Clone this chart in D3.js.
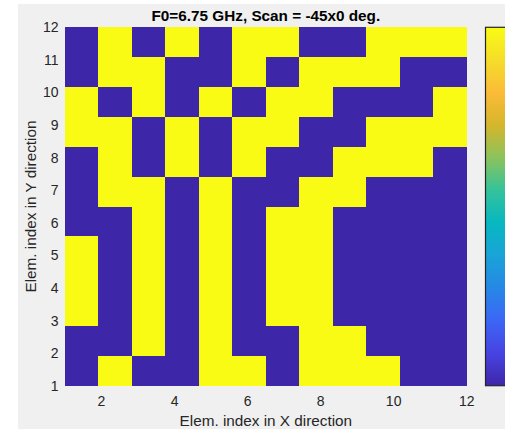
<!DOCTYPE html>
<html>
<head>
<meta charset="utf-8">
<script src="https://cdn.jsdelivr.net/npm/d3@7"></script>
<style>
  html, body { margin: 0; padding: 0; background: #fff; }
  svg { display: block; font-family: "Liberation Sans", Arial, Helvetica, sans-serif; }
</style>
</head>
<body>
<div id="chart"></div>
<script>
// element states, one row per Y index, listed from Y = 12 (top) down to Y = 1
const rows = [
  [0,1,0,1,0,1,1,0,0,1,1,1],
  [0,1,1,0,0,1,0,1,1,1,0,0],
  [1,0,1,0,1,0,1,1,0,0,0,1],
  [1,1,0,1,0,1,1,0,0,1,1,1],
  [0,1,0,1,0,1,0,0,1,1,1,0],
  [0,1,1,0,1,0,0,1,1,0,0,0],
  [0,0,1,0,1,0,1,1,0,0,0,0],
  [1,0,1,0,1,0,1,1,0,0,0,0],
  [1,0,1,0,1,0,1,1,0,0,0,0],
  [1,0,1,0,1,0,1,1,0,0,0,0],
  [0,0,1,0,1,0,0,1,1,0,0,0],
  [0,1,0,0,1,1,0,1,1,1,0,0]
];
const xIndex = d3.range(1, 13);
const yIndex = d3.range(12, 0, -1);
const xTicks = [2, 4, 6, 8, 10, 12];
const yTicks = d3.range(1, 13);

const title = 'F0=6.75 GHz, Scan = -45x0 deg.';
const xLabel = 'Elem. index in X direction';
const yLabel = 'Elem. index in Y direction';

// parula-like colormap stops for the colorbar
const parula = ['#3e26a8', '#4743e2', '#3c66f6', '#2688e6', '#1aa3d7', '#06b8c0',
                '#35c29a', '#8bc35c', '#d5b62c', '#fcbb39', '#f5dd29', '#f9fb15'];

const width = 505, height = 429;
const plot = {left: 65, right: 466.7, top: 27.3, bottom: 385.7};

const svg = d3.select('#chart').append('svg')
  .attr('width', width)
  .attr('height', height);

// figure background
svg.append('rect')
  .attr('x', 18).attr('y', 4)
  .attr('width', width - 18).attr('height', height - 4)
  .attr('fill', '#f0f0f0');

const x = d3.scaleLinear().domain([1, 12]).range([plot.left, plot.right]);
const y = d3.scaleLinear().domain([1, 12]).range([plot.bottom, plot.top]);

const xBand = d3.scaleBand().domain(xIndex).range([plot.left, plot.right]);
const yBand = d3.scaleBand().domain(yIndex).range([plot.top, plot.bottom]);

const color = d3.scaleOrdinal().domain([0, 1]).range([parula[0], parula[parula.length - 1]]);

const cells = [];
rows.forEach((r, ri) => r.forEach((v, ci) => cells.push({xi: xIndex[ci], yi: yIndex[ri], v: v})));

svg.append('g')
  .attr('shape-rendering', 'crispEdges')
  .selectAll('rect')
  .data(cells)
  .enter().append('rect')
  .attr('x', d => xBand(d.xi))
  .attr('y', d => yBand(d.yi))
  .attr('width', xBand.bandwidth())
  .attr('height', yBand.bandwidth())
  .attr('fill', d => color(d.v));

// tick labels
svg.append('g')
  .selectAll('text')
  .data(xTicks)
  .enter().append('text')
  .attr('x', d => x(d))
  .attr('y', 406)
  .attr('text-anchor', 'middle')
  .attr('font-size', 14)
  .attr('fill', '#262626')
  .text(d => d);

svg.append('g')
  .selectAll('text')
  .data(yTicks)
  .enter().append('text')
  .attr('x', 58.5)
  .attr('y', d => y(d) + 5)
  .attr('text-anchor', 'end')
  .attr('font-size', 14)
  .attr('fill', '#262626')
  .text(d => d);

// axis labels and title
svg.append('text')
  .attr('x', (plot.left + plot.right) / 2)
  .attr('y', 426)
  .attr('text-anchor', 'middle')
  .attr('font-size', 15.3)
  .attr('fill', '#262626')
  .text(xLabel);

svg.append('text')
  .attr('transform', `translate(36,${(plot.top + plot.bottom) / 2}) rotate(-90)`)
  .attr('text-anchor', 'middle')
  .attr('font-size', 15.3)
  .attr('fill', '#262626')
  .text(yLabel);

svg.append('text')
  .attr('x', (plot.left + plot.right) / 2)
  .attr('y', 20.5)
  .attr('text-anchor', 'middle')
  .attr('font-size', 15.3)
  .attr('font-weight', 'bold')
  .attr('fill', '#000')
  .text(title);

// colorbar
const grad = svg.append('defs').append('linearGradient')
  .attr('id', 'cbar')
  .attr('x1', 0).attr('y1', 1).attr('x2', 0).attr('y2', 0);
grad.selectAll('stop')
  .data(parula)
  .enter().append('stop')
  .attr('offset', (d, i) => i / (parula.length - 1))
  .attr('stop-color', d => d);

svg.append('rect')
  .attr('x', 485.5)
  .attr('y', plot.top)
  .attr('width', 30)
  .attr('height', plot.bottom - plot.top)
  .attr('fill', 'url(#cbar)')
  .attr('stroke', '#262626')
  .attr('stroke-width', 1.2);
</script>
</body>
</html>
